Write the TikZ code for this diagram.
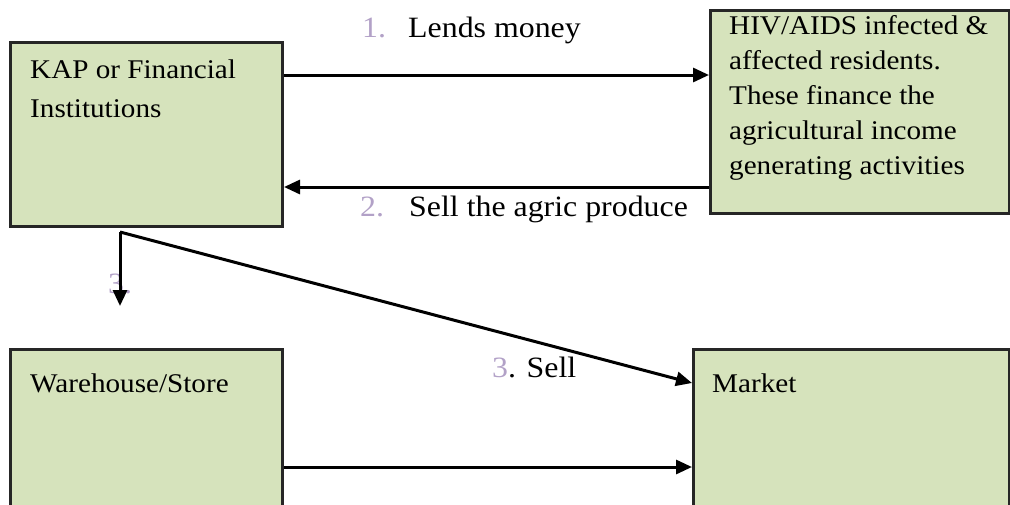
\documentclass[tikz,border=0pt]{standalone}
\usepackage{fontspec}
\setmainfont{Liberation Serif}
\usetikzlibrary{arrows.meta}
\definecolor{boxfill}{HTML}{D6E3BC}
\definecolor{numcol}{HTML}{B2A1C7}
\tikzset{
  box/.style={draw=black!85, line width=3pt, fill=boxfill, anchor=north west, inner sep=0pt},
  txt/.style={anchor=base west, inner sep=0pt, xscale=1.08, transform shape, align=left, font=\fontsize{27}{35}\selectfont},
  lbl/.style={anchor=base west, inner sep=0pt, xscale=1.08, transform shape, font=\fontsize{29.5}{34}\selectfont},
  conn/.style={line width=3pt, -{Triangle[length=16pt,width=14pt]}},
}
\begin{document}
\begin{tikzpicture}[x=1pt,y=-1pt]
\useasboundingbox (0,0) rectangle (1010,504);
\clip (0,0) rectangle (1010,504);
% boxes
\node[box, minimum width=272pt, minimum height=184pt] (kap) at (9,41) {};
\node[box, minimum width=299pt, minimum height=203pt] (hiv) at (709,9) {};
\node[box, minimum width=272pt, minimum height=180pt] (ware) at (9,348) {};
\node[box, minimum width=316pt, minimum height=180pt] (mkt) at (692,348) {};
% box texts (anchored at the baseline of the last line)
\node[txt, font=\fontsize{27}{39}\selectfont] (kapt) at (30,117) {KAP or Financial\\Institutions};
\node[txt] (hivt) at (729,174) {HIV/AIDS infected \&\\affected residents.\\These finance the\\agricultural income\\generating activities};
\node[txt] (waret) at (30,392) {Warehouse/Store};
\node[txt] (mktt) at (712,392) {Market};
% label 3 under the vertical arrow
\node[lbl, text=numcol] (l3a) at (108,293) {3.};
% connectors
\coordinate (y1) at (0,75);
\coordinate (y2) at (0,187);
\coordinate (y3) at (0,467);
\draw[conn] (kap.east |- y1) -- (hiv.west |- y1);
\draw[conn] (hiv.west |- y2) -- (kap.east |- y2);
\coordinate (corner) at (120,232);
\coordinate (down) at (120,306);
\coordinate (mkin) at (692,383);
\draw[conn] (corner) -- (down);
\draw[conn] (corner) -- (mkin);
\draw[conn] (ware.east |- y3) -- (mkt.west |- y3);
% labels
\node[lbl, text=numcol] (n1) at (362,37) {1.};
\node[lbl] (l1) at (408,37) {Lends money};
\node[lbl, text=numcol] (n2) at (360,216) {2.};
\node[lbl] (l2) at (409,216) {Sell the agric produce};
\node[lbl] (l3) at (492,377) {\textcolor{numcol}{3}. Sell};
\end{tikzpicture}
\end{document}
